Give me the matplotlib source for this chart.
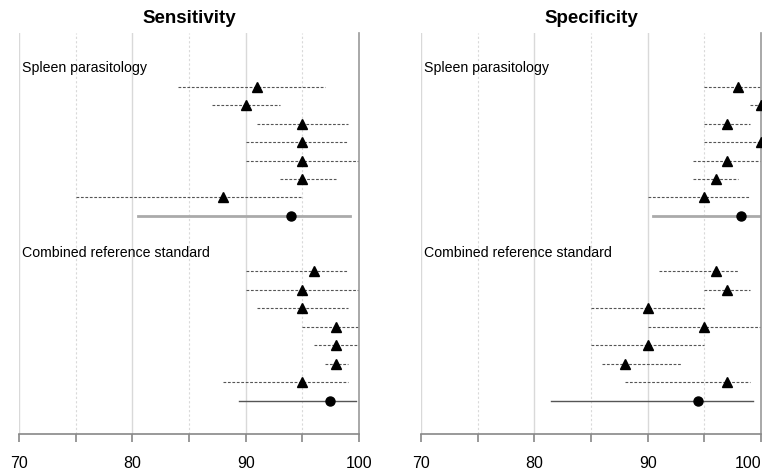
import matplotlib
matplotlib.use("Agg")
import matplotlib.pyplot as plt

plt.rcParams['font.family'] = ['Liberation Sans', 'DejaVu Sans']

group_labels = ["Spleen parasitology", "Combined reference standard"]

# sensitivity: point estimate, lower, upper (7 studies + pooled)
sens_spleen = [91, 90, 95, 95, 95, 95, 88, 94.0]
sens_spleen_lo = [84, 87, 91, 90, 90, 93, 75, 80.5]
sens_spleen_hi = [97, 93, 99, 99, 100, 98, 95, 99.2]
sens_comb = [96, 95, 95, 98, 98, 98, 95, 97.4]
sens_comb_lo = [90, 90, 91, 95, 96, 97, 88, 89.4]
sens_comb_hi = [99, 100, 99, 100, 100, 99, 99, 99.7]

# specificity
spec_spleen = [98, 100, 97, 100, 97, 96, 95, 98.2]
spec_spleen_lo = [95, 99, 95, 95, 94, 94, 90, 90.5]
spec_spleen_hi = [100, 100, 99, 100, 100, 98, 99, 100]
spec_comb = [96, 97, 90, 95, 90, 88, 97, 94.4]
spec_comb_lo = [91, 95, 85, 90, 85, 86, 88, 81.5]
spec_comb_hi = [98, 99, 95, 100, 95, 93, 99, 99.3]

major_ticks = [70, 80, 90, 100]
minor_ticks = [75, 85, 95]

panels = [
    ("Sensitivity", [(sens_spleen, sens_spleen_lo, sens_spleen_hi),
                     (sens_comb, sens_comb_lo, sens_comb_hi)]),
    ("Specificity", [(spec_spleen, spec_spleen_lo, spec_spleen_hi),
                     (spec_comb, spec_comb_lo, spec_comb_hi)]),
]

fig = plt.figure(figsize=(7.73, 4.70), dpi=100)
lefts = [19 / 773, 421 / 773]
width = 340 / 773
bottom = 36 / 470
height = 401 / 470

summary_styles = [dict(color="#aaaaaa", lw=2.0), dict(color="#555555", lw=1.0)]

for k, ((title, groups), left) in enumerate(zip(panels, lefts)):
    ax = fig.add_axes([left, bottom, width, height])
    ax.set_xlim(70, 100)
    ax.set_ylim(19.8, -1.9)

    for x in major_ticks[:-1]:
        ax.axvline(x, color="#d9d9d9", lw=1.0, zorder=0)
    for x in minor_ticks:
        ax.axvline(x, color="#d9d9d9", lw=0.8, ls=(0, (2, 2)), zorder=0)

    for g, (est, lo, hi) in enumerate(groups):
        base = g * 10
        ax.text(70.27, base, group_labels[g], fontsize=10.2, va="center", ha="left")
        n = len(est)
        for i in range(n):
            y = base + i + 1
            if i < n - 1:
                ax.plot([lo[i], hi[i]], [y, y], color="#555555", lw=0.8,
                        ls=(0, (2.5, 1.5)), zorder=2)
                ax.plot(est[i], y, marker="^", color="black", ms=7.5,
                        ls="none", zorder=3)
            else:
                ax.plot([lo[i], hi[i]], [y, y], zorder=2, **summary_styles[g])
                ax.plot(est[i], y, marker="o", color="black", ms=6.5,
                        ls="none", zorder=3)

    ax.set_title(title, fontsize=13.5, fontweight="bold", pad=7)
    for s in ["left", "top"]:
        ax.spines[s].set_visible(False)
    ax.spines["right"].set_color("#999999")
    ax.spines["right"].set_linewidth(1.2)
    ax.spines["bottom"].set_color("#888888")
    ax.spines["bottom"].set_linewidth(1.2)
    ax.set_yticks([])
    ax.set_xticks(major_ticks)
    ax.set_xticks(minor_ticks, minor=True)
    ax.tick_params(axis="x", which="both", direction="out", length=6,
                   width=1.2, color="#888888", pad=10, labelsize=11.5)
    if k == 1:
        # last label pulled inside the figure edge
        ax.get_xticklabels()[-1].set_horizontalalignment("right")

fig.savefig("out.png", dpi=100)
